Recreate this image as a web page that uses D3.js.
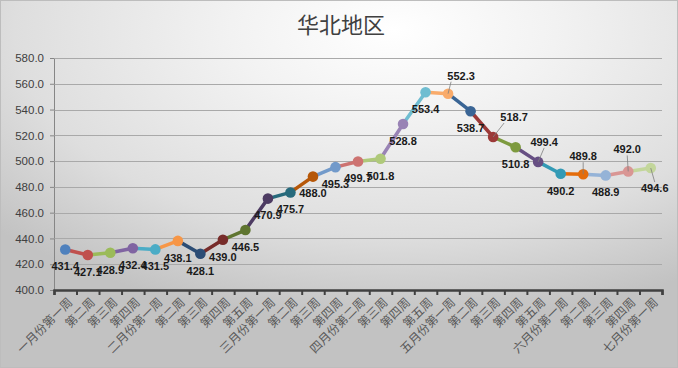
<!DOCTYPE html>
<html>
<head>
<meta charset="utf-8">
<script src="https://cdn.jsdelivr.net/npm/d3@7"></script>
<style>
  body { margin: 0; background: #fff; }
  .axis--y text { font-family: "Liberation Sans", Arial, sans-serif; font-size: 11.5px; fill: #404040; }
  .axis--x text { font-family: "Noto Sans CJK SC", sans-serif; font-size: 12px; fill: #595959; }
  .dataLabel { font-family: "Liberation Sans", Arial, sans-serif; font-size: 11px; font-weight: bold; fill: #1a1a1a; }
</style>
</head>
<body>
<div class="chart"></div>
<script>
const title = '华北地区'

const weeks = [
  '一月份第一周', '第二周', '第三周', '第四周',
  '二月份第一周', '第二周', '第三周', '第四周', '第五周',
  '三月份第一周', '第二周', '第三周', '第四周',
  '四月份第二周', '第三周', '第四周', '第五周',
  '五月份第一周', '第二周', '第三周', '第四周', '第五周',
  '六月份第一周', '第二周', '第三周', '第四周',
  '七月份第一周'
]

const prices = [
  431.4, 427.1, 428.9, 432.4,
  431.5, 438.1, 428.1, 439.0, 446.5,
  470.9, 475.7, 488.0, 495.3,
  499.7, 501.8, 528.8, 553.4,
  552.3, 538.7, 518.7, 510.8, 499.4,
  490.2, 489.8, 488.9, 492.0,
  494.6
]

const yTicks = [400, 420, 440, 460, 480, 500, 520, 540, 560, 580]

// excel "vary colors by point" palette
const pointColors = [
  '#4F81BD', '#C0504D', '#9BBB59', '#8064A2', '#4BACC6', '#F79646',
  '#2C4D75', '#772C2A', '#5F7530', '#4D3B62', '#276A7C', '#B65708',
  '#729ACA', '#CD7371', '#AFC97A', '#9983B5', '#6FBDD1', '#F9AB6B',
  '#3A6595', '#9C3A38', '#7D9A3F', '#664F83', '#339AB5', '#E46C0A',
  '#95B3D7', '#D99694', '#C3D69B'
]

const width = 678
const height = 368

const svg = d3.select('.chart')
  .append('svg')
  .attr('width', width)
  .attr('height', height)

// background gradient
const defs = svg.append('defs')
const grad = defs.append('radialGradient')
  .attr('id', 'bg')
  .attr('cx', 0.58).attr('cy', 0.08).attr('r', 0.8)
  .attr('fx', 0.58).attr('fy', 0.08)
grad.append('stop').attr('offset', '0%').attr('stop-color', '#ffffff')
grad.append('stop').attr('offset', '30%').attr('stop-color', '#f2f2f2')
grad.append('stop').attr('offset', '70%').attr('stop-color', '#dedede')
grad.append('stop').attr('offset', '100%').attr('stop-color', '#c2c2c2')

svg.append('rect')
  .attr('x', 0.5).attr('y', 0.5)
  .attr('width', width - 1).attr('height', height - 1)
  .attr('fill', 'url(#bg)')
  .attr('stroke', '#bdbdbd')

svg.append('text')
  .attr('x', 341)
  .attr('y', 33)
  .attr('text-anchor', 'middle')
  .style('font-family', '"Noto Sans CJK SC", sans-serif')
  .style('font-size', '22px')
  .style('fill', '#404040')
  .text(title)

const plotLeft = 54, plotRight = 662, plotTop = 58, plotBottom = 290

const x = d3.scaleBand()
  .domain(d3.range(prices.length))
  .range([plotLeft, plotRight])
  .padding(0)

const xEdge = d3.scaleLinear()
  .domain([0, prices.length])
  .range([plotLeft, plotRight])

const y = d3.scaleLinear()
  .domain([400, 580])
  .range([plotBottom, plotTop])

const cx = i => x(i) + x.bandwidth() / 2

// gridlines + y axis
const yAxis = d3.axisLeft(y)
  .tickValues(yTicks)
  .tickSize(4)
  .tickPadding(6)
  .tickFormat(d3.format('.1f'))

const gy = svg.append('g')
  .attr('class', 'axis axis--y')
  .attr('transform', `translate(${plotLeft},0)`)
  .call(yAxis)
gy.selectAll('line').attr('stroke', '#868686')
gy.select('.domain').attr('stroke', '#868686')

svg.append('g')
  .selectAll('line')
  .data(yTicks.slice(1))
  .join('line')
  .attr('x1', plotLeft + 0.5)
  .attr('x2', plotRight)
  .attr('y1', d => Math.round(y(d)) + 0.5)
  .attr('y2', d => Math.round(y(d)) + 0.5)
  .attr('stroke', '#a9a9a9')

// x axis ticks between categories
svg.append('g')
  .attr('class', 'axis axis--xticks')
  .attr('transform', `translate(0,${plotBottom})`)
  .call(d3.axisBottom(xEdge).tickValues(d3.range(prices.length + 1)).tickSize(5).tickFormat(''))
  .call(g => g.selectAll('line').attr('stroke', '#404040').attr('stroke-width', 2))
  .call(g => g.select('.domain').attr('stroke', '#404040').attr('stroke-width', 2.5))

svg.append('g')
  .attr('class', 'axis axis--x')
  .attr('transform', `translate(0,${plotBottom})`)
  .call(d3.axisBottom(x).tickSize(0).tickFormat(i => weeks[i]))
  .call(g => g.select('.domain').remove())
  .call(g => g.selectAll('text')
    .attr('text-anchor', 'end')
    .attr('x', 0).attr('y', 0).attr('dy', 0)
    .attr('transform', 'translate(8,13) rotate(-45)'))

// line segments, colored by end point
const segments = d3.range(1, prices.length)
svg.append('g')
  .selectAll('line')
  .data(segments)
  .join('line')
  .attr('x1', i => cx(i - 1))
  .attr('y1', i => y(prices[i - 1]))
  .attr('x2', i => cx(i))
  .attr('y2', i => y(prices[i]))
  .attr('stroke', i => pointColors[i])
  .attr('stroke-width', 3.5)
  .attr('stroke-linecap', 'round')

svg.append('g')
  .selectAll('circle')
  .data(prices)
  .join('circle')
  .attr('cx', (d, i) => cx(i))
  .attr('cy', d => y(d))
  .attr('r', 5.3)
  .attr('fill', (d, i) => pointColors[i])

// label placement: default below, some moved with leader lines
const labelShift = {
  17: [13, -18],
  19: [21, -20],
  21: [6, -20],
  23: [0, -18],
  25: [-1, -22],
  26: [4, 20]
}

const labels = svg.append('g')
prices.forEach((v, i) => {
  const px = cx(i), py = y(v)
  const s = labelShift[i]
  const lx = px + (s ? s[0] : 0)
  const ly = py + (s ? s[1] : 17)
  if (s) {
    labels.append('line')
      .attr('x1', px).attr('y1', py)
      .attr('x2', lx - (s[0] > 8 ? 10 : 0)).attr('y2', ly + (s[1] < 0 ? 6 : -6))
      .attr('stroke', '#7f7f7f')
      .attr('stroke-width', 0.8)
  }
  labels.append('text')
    .attr('class', 'dataLabel')
    .attr('x', lx)
    .attr('y', ly)
    .attr('dy', '0.35em')
    .attr('text-anchor', 'middle')
    .text(d3.format('.1f')(v))
})
</script>
</body>
</html>
